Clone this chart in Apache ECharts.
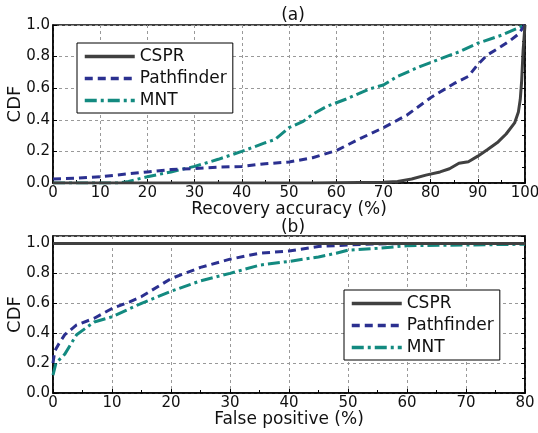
<!DOCTYPE html>
<html><head><meta charset="utf-8">
<script src="https://cdn.jsdelivr.net/npm/echarts@6/dist/echarts.min.js"></script>
<style>html,body{margin:0;padding:0;background:#fff}#c{width:538px;height:433px}</style>
</head><body><div id="c"></div>
<script>
// (a) Recovery accuracy CDF
const a_cspr = [[0,0],[55,0],[70,0.005],[73,0.01],[76,0.025],[79,0.05],[82,0.07],[84,0.09],[86,0.125],[88,0.135],[90,0.17],[92,0.21],[94.3,0.26],[96,0.31],[97.8,0.38],[98.6,0.45],[99,0.53],[99.3,0.65],[99.6,0.84],[100,1.0]];
const a_path = [[0,0.025],[5,0.03],[10,0.04],[15,0.055],[20,0.07],[25,0.085],[30,0.092],[35,0.1],[40,0.105],[45,0.122],[50,0.133],[55,0.16],[60,0.205],[65,0.28],[70,0.35],[75,0.43],[80,0.54],[85,0.63],[88,0.675],[90,0.75],[92,0.81],[95,0.865],[97,0.905],[98.5,0.94],[100,1.0]];
const a_mnt = [[0,0],[14,0],[16,0.01],[20,0.04],[25,0.07],[30,0.105],[35,0.15],[40,0.2],[45,0.255],[47,0.275],[50,0.35],[53,0.39],[55,0.435],[58,0.485],[62,0.53],[67,0.595],[70,0.62],[73,0.675],[78,0.74],[82,0.785],[86,0.83],[90,0.885],[95,0.935],[100,1.0]];
// (b) False positive CDF
const b_cspr = [[0,1.0],[80,1.0]];
const b_path = [[0,0.2],[0.3,0.28],[1,0.33],[2,0.39],[4,0.455],[7,0.5],[10,0.565],[13,0.61],[15,0.645],[20,0.765],[25,0.84],[30,0.895],[35,0.935],[40,0.95],[45,0.98],[50,0.99],[55,0.997],[60,1.0],[80,1.0]];
const b_mnt = [[0,0.12],[0.5,0.2],[2,0.26],[4,0.39],[7,0.475],[10,0.51],[15,0.6],[20,0.68],[25,0.75],[30,0.8],[35,0.855],[40,0.88],[45,0.91],[48,0.935],[50,0.955],[55,0.968],[60,0.985],[70,0.99],[80,0.995]];
const names = ['CSPR','Pathfinder','MNT'];
const colors = ['#404040','#2b3090','#138a80'];
const dashes = ['solid',[8,5],[12,4,3,4]];

const F = 'DejaVu Sans';
const chart = echarts.init(document.getElementById('c'));
function xAx(gi, max, name){
  return {gridIndex:gi,type:'value',min:0,max:max,interval:10,name:name,nameLocation:'middle',nameGap:18,
    nameMoveOverlap:false,
    nameTextStyle:{fontFamily:F,fontSize:17,color:'#111'},
    axisLine:{onZero:false,lineStyle:{color:'#000',width:1.5}},
    axisTick:{inside:true,length:4,lineStyle:{color:'#000'}},
    minorTick:{show:true,splitNumber:2,length:3,lineStyle:{color:'#000'}},
    axisLabel:{fontFamily:F,fontSize:15,color:'#111',margin:3},
    splitLine:{show:true,lineStyle:{color:'#999',type:[3,3]}}};
}
function yAx(gi, max){
  return {gridIndex:gi,type:'value',min:0,max:max,interval:0.2,name:'CDF',nameLocation:'middle',nameGap:29,
    nameMoveOverlap:false,
    nameTextStyle:{fontFamily:F,fontSize:18,color:'#111'},
    axisLine:{onZero:false,lineStyle:{color:'#000',width:1.5}},
    axisTick:{inside:true,length:4,lineStyle:{color:'#000'}},
    axisLabel:{fontFamily:F,fontSize:15,color:'#111',margin:3,formatter:v=>v.toFixed(1)},
    splitLine:{show:true,lineStyle:{color:'#999',type:[3,3]}}};
}
function yRight(gi, max){
  return {gridIndex:gi,type:'value',min:0,max:max,interval:0.2,position:'right',
    axisLine:{show:true,onZero:false,lineStyle:{color:'#000',width:1.5}},
    axisTick:{show:true,inside:true,length:4,lineStyle:{color:'#000'}},
    minorTick:{show:true,splitNumber:2,length:3,lineStyle:{color:'#000'}},
    axisLabel:{show:false},splitLine:{show:false}};
}
function ser(name, data, gi, i){
  return {name:name,type:'line',xAxisIndex:gi,yAxisIndex:gi*2,data:data,showSymbol:false,symbol:'none',
    lineStyle:{color:colors[i],width:3,type:dashes[i]},itemStyle:{color:colors[i]},z:10-i};
}
const legendBase = {orient:'vertical',itemWidth:50,itemHeight:12,itemGap:5,borderColor:'#000',borderWidth:1,
  padding:[5,6,4,6],backgroundColor:'#fff',textStyle:{fontFamily:F,fontSize:17,color:'#111'},data:names,
  itemStyle:{opacity:0},lineStyle:{width:3.5}};
chart.setOption({
  animation:false,
  title:[{text:'(a)',left:288,top:2,textAlign:'center',textStyle:{fontFamily:F,fontSize:17,fontWeight:'normal',color:'#111'}},
         {text:'(b)',left:288,top:214,textAlign:'center',textStyle:{fontFamily:F,fontSize:17,fontWeight:'normal',color:'#111'}}],
  grid:[{left:53,top:25,width:472,height:158,show:true,borderColor:'#000',borderWidth:1.5,outerBoundsMode:'none',containLabel:false},
        {left:53,top:236,width:472,height:157,show:true,borderColor:'#000',borderWidth:1.5,outerBoundsMode:'none',containLabel:false}],
  xAxis:[xAx(0,100,'Recovery accuracy (%)'), xAx(1,80,'False positive (%)')],
  yAxis:[yAx(0,1.0), yRight(0,1.0), yAx(1,1.05), yRight(1,1.05)],
  legend:[Object.assign({},legendBase,{left:77,top:43}), Object.assign({},legendBase,{left:344,top:290})],
  series:[ser('CSPR',a_cspr,0,0),ser('Pathfinder',a_path,0,1),ser('MNT',a_mnt,0,2),
          ser('CSPR',b_cspr,1,0),ser('Pathfinder',b_path,1,1),ser('MNT',b_mnt,1,2)]
});
</script></body></html>
